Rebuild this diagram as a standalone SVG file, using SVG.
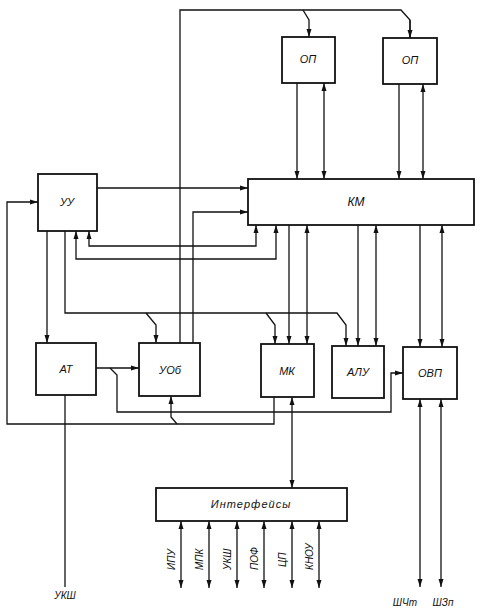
<svg xmlns="http://www.w3.org/2000/svg" width="500" height="612" viewBox="0 0 500 612">
<style>
.box{fill:#fff;stroke:#111;stroke-width:1.8}
.ln{fill:none;stroke:#111;stroke-width:1.3}
.e{marker-end:url(#ar)}
.b{marker-end:url(#ar);marker-start:url(#ar)}
text{font-family:"Liberation Sans",Arial,sans-serif;font-style:italic;fill:#111;text-anchor:middle}
.t{font-size:11px}
.s{font-size:10px}
</style>
<defs>
<marker id="ar" viewBox="0 0 8 6" refX="8" refY="3" markerWidth="8" markerHeight="6" markerUnits="userSpaceOnUse" orient="auto-start-reverse">
<path d="M0,0.5 L8,3 L0,5.5 z" fill="#111"/>
</marker>
</defs>
<rect width="500" height="612" fill="#fff"/>
<g id="connectors">
<path class="ln" d="M180,343 V10 H401 L410,20 V38"/>
<path class="ln e" d="M410,20 V38"/>
<path class="ln e" d="M303,10 L309,20 V37"/>
<path class="ln e" d="M297,83 V179"/>
<path class="ln b" d="M324,83 V179"/>
<path class="ln e" d="M399,84 V179"/>
<path class="ln b" d="M423,84 V179"/>
<path class="ln e" d="M97,188 H248"/>
<path class="ln e" d="M193,343 V212 H248"/>
<path class="ln b" d="M256,225 V246 H89 V231"/>
<path class="ln b" d="M276,225 V259 H76 V231"/>
<path class="ln e" d="M289,225 V344"/>
<path class="ln b" d="M307,225 V344"/>
<path class="ln e" d="M358,225 V346"/>
<path class="ln b" d="M376,225 V346"/>
<path class="ln e" d="M420,225 V347"/>
<path class="ln b" d="M442,225 V347"/>
<path class="ln e" d="M47,231 V343"/>
<path class="ln e" d="M65,231 V313 H337 L346,325 V346"/>
<path class="ln e" d="M146,313 L156,325 V343"/>
<path class="ln e" d="M266,313 L275,325 V344"/>
<path class="ln e" d="M96,368 H139"/>
<path class="ln e" d="M110,368 L117,375 V412 H391 V373 H403"/>
<path class="ln e" d="M274,397 V424 H7 V202 H38"/>
<path class="ln e" d="M177,424 L171,417 V396"/>
<path class="ln b" d="M292,397 V488"/>
<path class="ln" d="M65,395 V587"/>
<path class="ln b" d="M420,399 V587"/>
<path class="ln b" d="M441,399 V587"/>
<path class="ln b" d="M181,521 V588"/>
<path class="ln b" d="M209,521 V588"/>
<path class="ln b" d="M237,521 V588"/>
<path class="ln b" d="M264,521 V588"/>
<path class="ln b" d="M292,521 V588"/>
<path class="ln b" d="M319,521 V588"/>
</g>
<g id="op1"><rect class="box" x="282" y="37" width="53" height="46"/><text class="t" x="308" y="63">ОП</text></g>
<g id="op2"><rect class="box" x="383" y="38" width="54" height="46"/><text class="t" x="410" y="64">ОП</text></g>
<g id="km"><rect class="box" x="248" y="179" width="226" height="46"/><text x="356" y="206" style="font-size:12px">КМ</text></g>
<g id="uu"><rect class="box" x="38" y="174" width="59" height="57"/><text class="t" x="67" y="206">УУ</text></g>
<g id="at"><rect class="box" x="36" y="343" width="60" height="52"/><text class="t" x="66" y="373">АТ</text></g>
<g id="uob"><rect class="box" x="139" y="343" width="61" height="53"/><text class="t" x="170" y="374">УОб</text></g>
<g id="mk"><rect class="box" x="261" y="344" width="53" height="53"/><text class="t" x="287" y="375">МК</text></g>
<g id="alu"><rect class="box" x="332" y="346" width="52" height="52"/><text class="t" x="358" y="376">АЛУ</text></g>
<g id="ovp"><rect class="box" x="403" y="347" width="54" height="52"/><text class="t" x="430" y="377">ОВП</text></g>
<g id="interfaces"><rect class="box" x="156" y="488" width="191" height="33"/><text class="t" x="251" y="508" style="letter-spacing:1px">Интерфейсы</text></g>
<g id="labels">
<text class="s" x="65" y="599">УКШ</text>
<text class="s" x="405" y="606">ШЧт</text>
<text class="s" x="443" y="606">ШЗп</text>
<text class="s" transform="translate(175,570) rotate(-90)" style="text-anchor:start">ИПУ</text>
<text class="s" transform="translate(203,570) rotate(-90)" style="text-anchor:start">МПК</text>
<text class="s" transform="translate(231,570) rotate(-90)" style="text-anchor:start">УКШ</text>
<text class="s" transform="translate(258,570) rotate(-90)" style="text-anchor:start">ПОФ</text>
<text class="s" transform="translate(286,567) rotate(-90)" style="text-anchor:start">ЦП</text>
<text class="s" transform="translate(313,570) rotate(-90)" style="text-anchor:start">КНОУ</text>
</g>
</svg>
